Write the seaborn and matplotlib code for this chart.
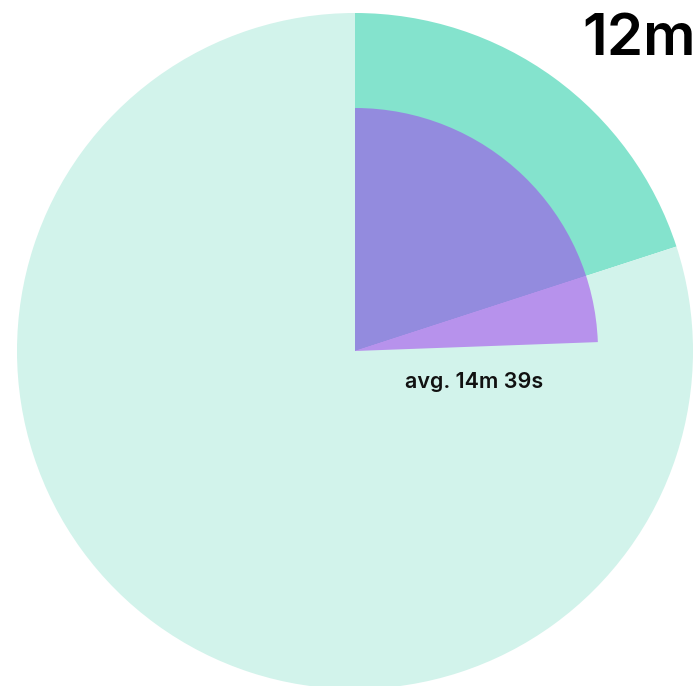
import matplotlib
matplotlib.use("Agg")
import matplotlib.pyplot as plt
import seaborn as sns

# Session time on a 60-minute clock face
clock_minutes = 60
target_minutes = 12          # outer mint wedge
avg_minutes = 14 + 39 / 60   # inner purple wedge
target_label = "12m"
avg_label = "avg. 14m 39s"

light_mint = "#d2f3eb"
mint = "#84e3cd"
purple = "#a143ed"

sns.set_style("white")
plt.rcParams["font.family"] = ["Inter", "DejaVu Sans"]

W, H = 695, 686
fig = plt.figure(figsize=(W / 100, H / 100), dpi=100)
ax = fig.add_axes([0, 0, 1, 1])

cx, cy = 355, H - 351

ax.pie([target_minutes, clock_minutes - target_minutes],
       colors=[mint, light_mint], startangle=90, counterclock=False,
       radius=338, center=(cx, cy), frame=True,
       wedgeprops=dict(linewidth=0))

inner, _ = ax.pie([avg_minutes, clock_minutes - avg_minutes],
                  colors=[purple, "none"], startangle=90, counterclock=False,
                  radius=243, center=(cx, cy), frame=True,
                  wedgeprops=dict(linewidth=0))
inner[0].set_alpha(0.55)

ax.set_xlim(0, W)
ax.set_ylim(0, H)
ax.axis("off")

ax.text(474, H - 388, avg_label, ha="center", va="baseline",
        fontsize=15.5, fontweight="semibold", color="#111111")
ax.text(582, H - 55, target_label, ha="left", va="baseline",
        fontsize=42, fontweight="semibold", color="#000000")

fig.savefig("out.png", dpi=100)
